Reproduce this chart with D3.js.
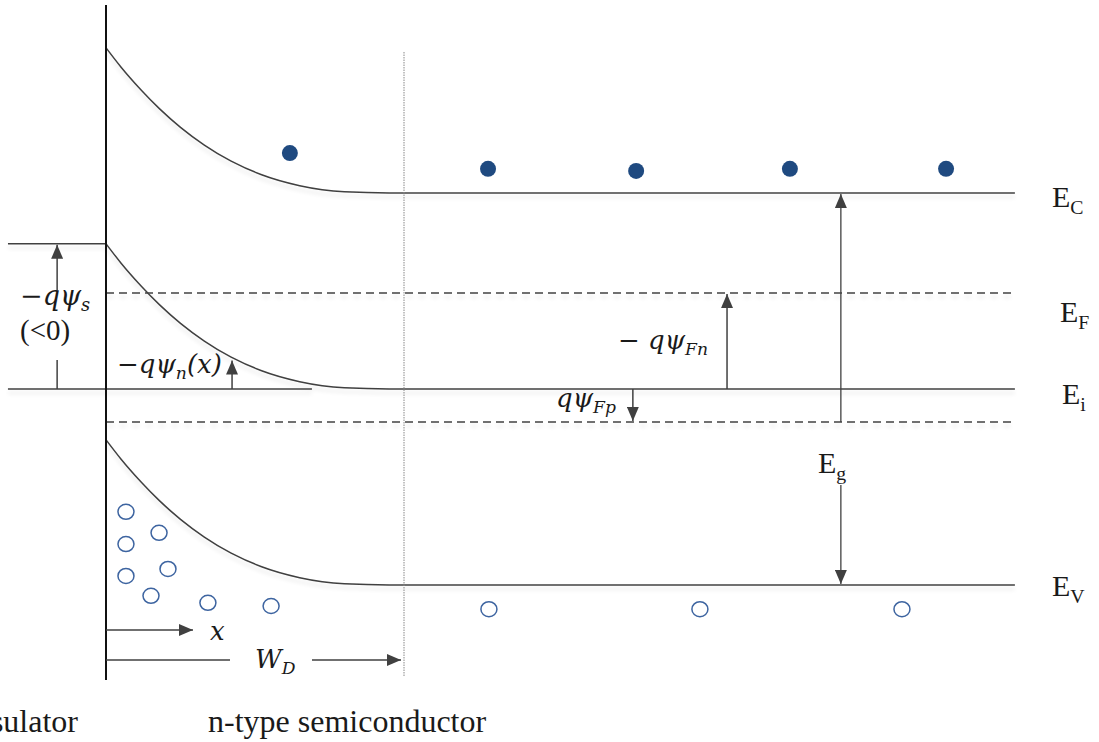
<!DOCTYPE html>
<html>
<head>
<meta charset="utf-8">
<script src="https://cdn.jsdelivr.net/npm/d3@7"></script>
<style>
  html, body { margin: 0; padding: 0; background: #fff; }
  svg { display: block; }
  text { font-family: "Liberation Serif", "Times New Roman", serif; fill: #1a1a1a; }
  .math { font-family: "DejaVu Serif", "Liberation Serif", serif; font-style: italic; }
</style>
</head>
<body>
<svg id="chart" width="1099" height="742"></svg>
<script>
// Energy levels far from the interface (eV, relative to the intrinsic level Ei)
const bandNames  = ["C", "i", "V"];
const bandFlat   = [0.56, 0.0, -0.56];
const surfaceBend = 0.415;          // -q*psi_s : band bending at the surface (eV)
const fermiN     = 0.274;           // -q*psi_Fn : EF above Ei
const fermiP     = -0.094;          // q*psi_Fp  : dashed quasi level below Ei

// Shape of the band bending: depth (in units of W_D) and fraction of bending left
const bendDepth    = [0, 0.05, 0.117, 0.18, 0.25, 0.33, 0.42, 0.52, 0.65, 0.80, 0.95, 3.05];
const bendFraction = [1, 0.868, 0.711, 0.579, 0.452, 0.330, 0.219, 0.127, 0.050, 0.008, 0, 0];

// Free electrons (filled) and holes (open): depth in W_D units, energy in eV
const electronX = [0.617, 1.282, 1.779, 2.295, 2.819];
const electronE = [0.674, 0.629, 0.623, 0.629, 0.629];
const holeX = [0.067, 0.067, 0.178, 0.067, 0.208, 0.151, 0.342, 0.554, 1.285, 1.993, 2.671];
const holeE = [-0.351, -0.443, -0.411, -0.534, -0.514, -0.591, -0.611, -0.620, -0.629, -0.629, -0.629];

// Horizontal extents (W_D units)
const rightEnd = 3.05;
const leftEnd = -0.329;

const svg = d3.select("#chart");
const x = d3.scaleLinear().domain([0, 1]).range([106, 404]);
const y = d3.scaleLinear().domain([-0.56, 0.56]).range([585, 193]);

const ink = "#404040";

// soft drop shadow under the level lines
const defs = svg.append("defs");
const f = defs.append("filter").attr("id", "shade").attr("x", "-5%").attr("y", "-50%").attr("width", "110%").attr("height", "300%");
f.append("feGaussianBlur").attr("in", "SourceAlpha").attr("stdDeviation", 2).attr("result", "b");
f.append("feOffset").attr("in", "b").attr("dy", 4).attr("result", "o");
f.append("feComponentTransfer").attr("in", "o").attr("result", "s")
  .append("feFuncA").attr("type", "linear").attr("slope", 0.12);
const fm = f.append("feMerge");
fm.append("feMergeNode").attr("in", "s");
fm.append("feMergeNode").attr("in", "SourceGraphic");

defs.append("marker").attr("id", "head")
  .attr("viewBox", "0 0 14 12").attr("refX", 14).attr("refY", 6)
  .attr("markerWidth", 14).attr("markerHeight", 12)
  .attr("markerUnits", "userSpaceOnUse").attr("orient", "auto")
  .append("path").attr("d", "M0,0 L14,6 L0,12 Z").attr("fill", ink);

// bands with bending near the interface
const bandLine = d3.line().x(d => x(d[0])).y(d => y(d[1])).curve(d3.curveMonotoneX);
const levels = svg.append("g").attr("filter", "url(#shade)");
bandFlat.forEach((e0, i) => {
  const pts = bendDepth.map((d, k) => [d, e0 + surfaceBend * bendFraction[k]]);
  levels.append("path").attr("d", bandLine(pts))
    .attr("fill", "none").attr("stroke", ink).attr("stroke-width", 1.5);
});

// Fermi level and dashed quasi level
[fermiN, fermiP].forEach(e => {
  levels.append("line")
    .attr("x1", x(0)).attr("x2", x(rightEnd)).attr("y1", y(e)).attr("y2", y(e))
    .attr("stroke", ink).attr("stroke-width", 1.5).attr("stroke-dasharray", "8,5");
});

// reference lines on the insulator side for psi_s
levels.append("line").attr("x1", x(leftEnd)).attr("x2", x(0))
  .attr("y1", y(surfaceBend)).attr("y2", y(surfaceBend)).attr("stroke", ink).attr("stroke-width", 1.5);
levels.append("line").attr("x1", x(leftEnd)).attr("x2", x(0.691))
  .attr("y1", y(0)).attr("y2", y(0)).attr("stroke", ink).attr("stroke-width", 1.5);

// insulator / semiconductor interface
svg.append("line").attr("x1", x(0)).attr("x2", x(0)).attr("y1", 5).attr("y2", 680)
  .attr("stroke", "#111").attr("stroke-width", 2);

// depletion edge
svg.append("line").attr("x1", x(1)).attr("x2", x(1)).attr("y1", 52).attr("y2", 676)
  .attr("stroke", "#888").attr("stroke-width", 1).attr("stroke-dasharray", "1.5,1");

// carriers
svg.append("g").selectAll("circle").data(electronX).join("circle")
  .attr("cx", d => x(d)).attr("cy", (d, i) => y(electronE[i])).attr("r", 8)
  .attr("fill", "#1f4a80");
svg.append("g").selectAll("ellipse").data(holeX).join("ellipse")
  .attr("cx", d => x(d)).attr("cy", (d, i) => y(holeE[i])).attr("rx", 8).attr("ry", 7.5)
  .attr("fill", "none").attr("stroke", "#3d64a0").attr("stroke-width", 1.5);

// arrows
function arrow(x1, y1, x2, y2, w) {
  svg.append("line").attr("x1", x1).attr("y1", y1).attr("x2", x2).attr("y2", y2)
    .attr("stroke", ink).attr("stroke-width", w || 1.5).attr("marker-end", "url(#head)");
}
function plain(x1, y1, x2, y2) {
  svg.append("line").attr("x1", x1).attr("y1", y1).attr("x2", x2).attr("y2", y2)
    .attr("stroke", ink).attr("stroke-width", 1.5);
}
const psiX = -0.164;
arrow(x(psiX), 290, x(psiX), y(surfaceBend) + 1);
plain(x(psiX), 360, x(psiX), y(0));

const psiNx = 0.423;
const bentAt = d3.scaleLinear().domain(bendDepth.slice(0, 11)).range(bendFraction.slice(0, 11));
arrow(x(psiNx), y(0), x(psiNx), y(surfaceBend * bentAt(psiNx)) + 3);

const fnX = 2.084;
arrow(x(fnX), y(0), x(fnX), y(fermiN) + 1);
const fpX = 1.768;
arrow(x(fpX), y(0), x(fpX), y(fermiP) - 1);

const egX = 2.466;
arrow(x(egX), y(fermiP), x(egX), y(bandFlat[0]) + 1, 1.3);
arrow(x(egX), 485, x(egX), y(bandFlat[2]) - 1, 1.3);

// x and W_D arrows
arrow(x(0), 630, 193, 630);
plain(x(0), 660, 230, 660);
arrow(312, 660, x(1) - 3, 660);

// labels
function label(tx, ty, parts, size, cls) {
  const t = svg.append("text").attr("x", tx).attr("y", ty).attr("font-size", size);
  if (cls) t.attr("class", cls);
  parts.forEach(p => {
    const s = t.append("tspan").text(p.t);
    if (p.sub) s.attr("font-size", size * 0.66).attr("dy", size * 0.22);
    if (p.up) s.attr("dy", -size * 0.22);
    if (p.it === false) s.attr("font-style", "normal");
  });
  return t;
}
const levelLabel = [["C", 1052, 207], ["F", 1060, 322], ["i", 1062, 404], ["V", 1052, 596]];
levelLabel.forEach(([s, lx, ly]) => label(lx, ly, [{ t: "E" }, { t: s, sub: true }], 30));
label(818, 473, [{ t: "E" }, { t: "g", sub: true }], 30);

label(20, 305, [{ t: "\u2212", it: false }, { t: "q\u03c8" }, { t: "s", sub: true }], 27, "math");
label(20, 340, [{ t: "(<0)" }], 29);
label(117, 373, [{ t: "\u2212", it: false }, { t: "q\u03c8" }, { t: "n", sub: true }, { t: "(x)", up: true }], 26, "math");
label(618, 349, [{ t: "\u2212 ", it: false }, { t: "q\u03c8" }, { t: "Fn", sub: true }], 26, "math");
label(556, 407, [{ t: "q\u03c8" }, { t: "Fp", sub: true }], 26, "math");
label(210, 640, [{ t: "x" }], 26, "math");
label(255, 668, [{ t: "W" }, { t: "D", sub: true }], 26, "math");

svg.append("text").attr("x", 78).attr("y", 732).attr("text-anchor", "end").attr("font-size", 32).text("Insulator");
svg.append("text").attr("x", 208).attr("y", 732).attr("font-size", 32).text("n-type semiconductor");
</script>
</body>
</html>
